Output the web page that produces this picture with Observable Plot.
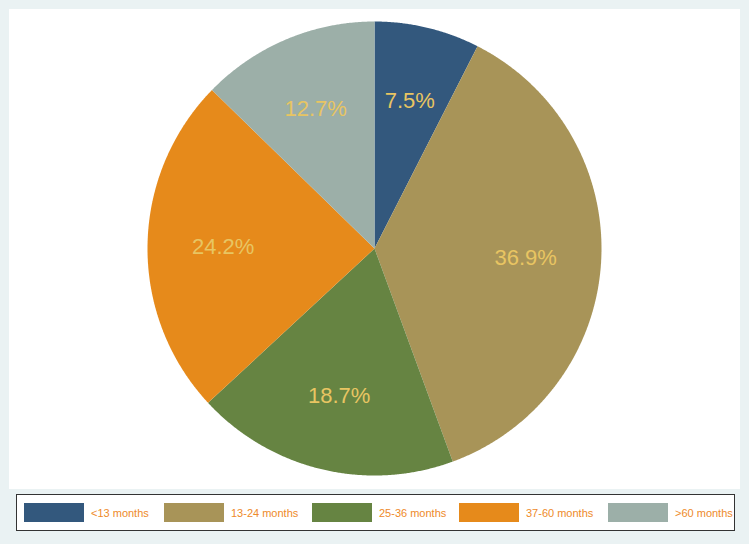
<!DOCTYPE html>
<html><head><meta charset="utf-8">
<script src="https://cdn.jsdelivr.net/npm/d3@7"></script>
<script src="https://cdn.jsdelivr.net/npm/@observablehq/plot@0.6"></script>
<style>
html,body{margin:0;padding:0;background:#EAF2F3;width:749px;height:544px;overflow:hidden;font-family:"Liberation Sans",Arial,sans-serif}
#panel{position:absolute;left:9px;top:9px;width:731px;height:480px;background:#fff}
#legend{position:absolute;left:16px;top:494px;width:717px;height:35px;background:#fff;border:1.5px solid #333;box-sizing:content-box}
.item{position:absolute;top:8px;height:19px;display:flex;align-items:center}
.sw{width:60px;height:19px;margin-right:7px}
.lb{font-size:11px;color:#EE8A2A;white-space:nowrap}
</style></head>
<body>
<div id="panel"></div>
<div id="legend"></div>
<script>
const categories = ["<13 months","13-24 months","25-36 months","37-60 months",">60 months"];
const values = [7.5, 36.9, 18.7, 24.2, 12.7];
const colors = ["#33587D","#A89458","#668442","#E68A1B","#9CAFA8"];

const pie = d3.pie().sort(null).value(d => d.value)(categories.map((c,i)=>({category:c,value:values[i]})));
const polys = [];
const labels = [];
pie.forEach(s => {
  const c = s.data.category;
  polys.push({category:c, x:0, y:0});
  const n = Math.max(2, Math.ceil((s.endAngle - s.startAngle) / 0.005));
  for (let k = 0; k <= n; k++) {
    const a = s.startAngle + (s.endAngle - s.startAngle) * k / n;
    polys.push({category:c, x:Math.sin(a), y:Math.cos(a)});
  }
  polys.push({category:c, x:0, y:0});
  const m = (s.startAngle + s.endAngle) / 2;
  labels.push({category:c, x:0.667*Math.sin(m), y:0.667*Math.cos(m), text:(s.data.value).toFixed(1)+"%"});
});

const W = 731, H = 480, R = 227, cx = 365, cy = 239;
const chart = Plot.plot({
  width: W, height: H,
  margin: 0,
  style: {background: "transparent", overflow: "visible"},
  x: {domain: [-cx/R, (W-cx)/R], range: [0, W], axis: null},
  y: {domain: [-(H-cy)/R, cy/R], range: [H, 0], axis: null},
  color: {domain: categories, range: colors},
  marks: [
    Plot.line(polys, {x:"x", y:"y", z:"category", fill:"category", stroke:null, curve:"linear"}),
    Plot.text(labels, {x:"x", y:"y", text:"text", fill:"#E8C562", fontSize:22, fontFamily:"Liberation Sans, Arial, sans-serif"})
  ]
});
document.getElementById("panel").appendChild(chart);

const leg = document.getElementById("legend");
const lefts = [7, 147, 295, 442, 591];
categories.forEach((c,i) => {
  const it = document.createElement("div");
  it.className = "item";
  it.style.left = lefts[i] + "px";
  it.innerHTML = `<div class="sw" style="background:${colors[i]}"></div><span class="lb">${c.replace("<","&lt;").replace(">","&gt;")}</span>`;
  leg.appendChild(it);
});
</script>
</body></html>
